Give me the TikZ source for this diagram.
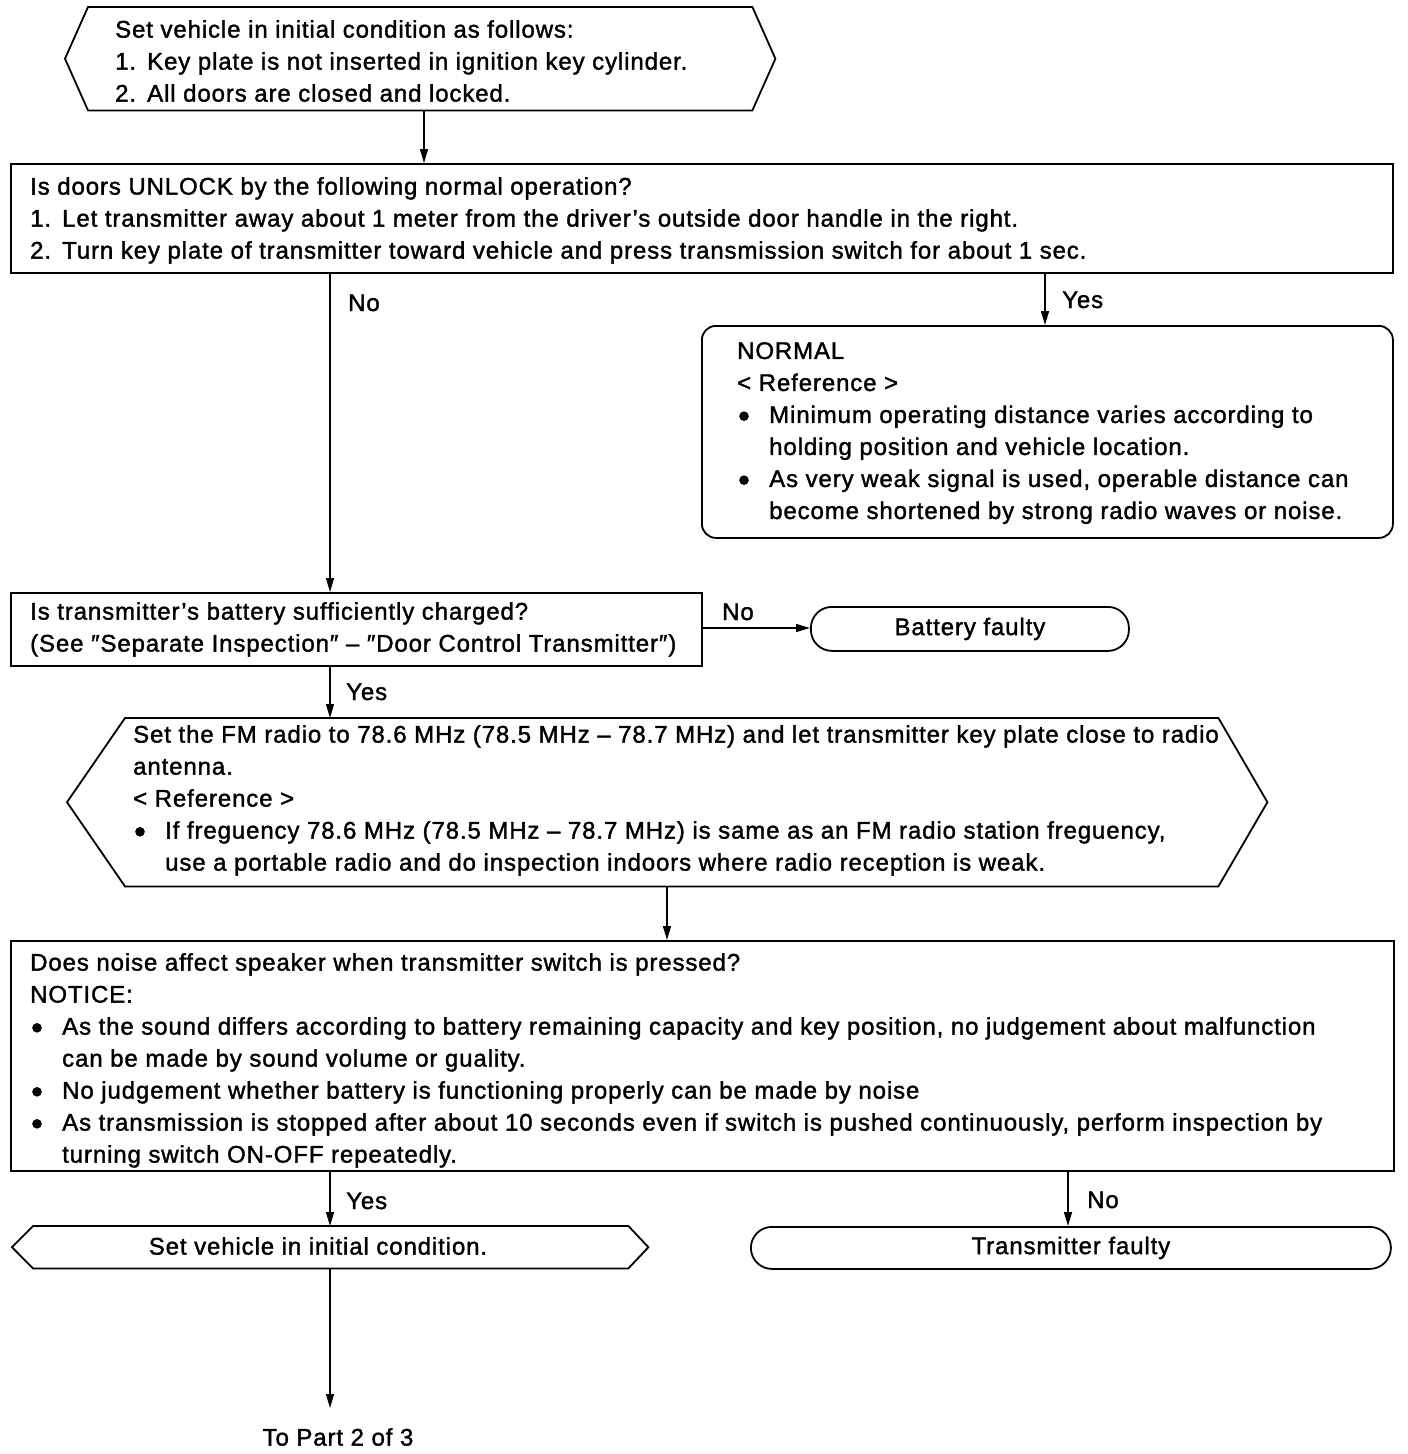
\documentclass[tikz,border=0pt]{standalone}
\usepackage{fontspec}
\setmainfont{Liberation Sans}[LetterSpace=3.7,FakeBold=1.5]
\usetikzlibrary{arrows.meta,calc}
\newcommand{\fs}{\fontsize{24}{32}\selectfont}
\newcommand{\bul}{\makebox[32pt][l]{\hspace{2pt}\raisebox{2pt}{\tikz\fill (0,0) circle (4.8pt);}}}
\newcommand{\ind}{\hspace*{32pt}}
\newcommand{\num}[1]{\makebox[32pt][l]{#1}}
\begin{document}
\begin{tikzpicture}[x=1pt,y=-1pt,
  frame/.style={shape=rectangle, inner sep=0pt, anchor=north west},
  boxline/.style={line width=1.8pt, line join=miter},
  txt/.style={anchor=north west, align=left, inner sep=0pt, font=\fs},
  lbl/.style={anchor=base west, inner sep=0pt, font=\fs},
  ctr/.style={inner sep=0pt, font=\fs},
  conn/.style={line width=1.5pt, -{Triangle[length=14pt,width=8pt]}},
]
\useasboundingbox[fill=white] (0,0) rectangle (1408,1454);

% top hexagon
\node[frame, minimum width=664pt, minimum height=103pt] (h1) at (88,7) {};
\draw[boxline] (h1.north west) -- (h1.north east) -- ($(h1.east)+(23,0)$) -- (h1.south east) -- (h1.south west) -- ($(h1.west)+(-23,0)$) -- cycle;
\node[txt] (h1t) at (115,20) {Set vehicle in initial condition as follows:\\ \num{1.}Key plate is not inserted in ignition key cylinder.\\ \num{2.}All doors are closed and locked.};

% box 2
\node[frame, draw, line width=1.8pt, minimum width=1382pt, minimum height=109pt] (b2) at (10,163) {};
\node[txt] (b2t) at (30,177) {Is doors UNLOCK by the following normal operation?\\ \num{1.}Let transmitter away about 1 meter from the driver’s outside door handle in the right.\\ \num{2.}Turn key plate of transmitter toward vehicle and press transmission switch for about 1 sec.};

% normal box
\node[frame, draw, line width=1.8pt, rounded corners=14pt, minimum width=691pt, minimum height=212pt] (nb) at (701,325) {};
\node[txt] (nbt) at (737,342) {NORMAL\\ < Reference >\\ \bul Minimum operating distance varies according to\\ \ind holding position and vehicle location.\\ \bul As very weak signal is used, operable distance can\\ \ind become shortened by strong radio waves or noise.};

% box 3
\node[frame, draw, line width=1.8pt, minimum width=691pt, minimum height=73pt] (b3) at (10,592) {};
\node[txt] (b3t) at (30,602) {Is transmitter’s battery sufficiently charged?\\ (See ″Separate Inspection″ – ″Door Control Transmitter″)};

% battery faulty
\node[frame, draw, line width=1.8pt, rounded corners=21pt, minimum width=318pt, minimum height=44pt] (bf) at (810,606) {};
\node[ctr] (bft) at (bf.center) {Battery faulty};

% hexagon 2
\node[frame, minimum width=1093pt, minimum height=168pt] (h2) at (125,718) {};
\draw[boxline] (h2.north west) -- (h2.north east) -- ($(h2.east)+(49,0)$) -- (h2.south east) -- (h2.south west) -- ($(h2.west)+(-58,0)$) -- cycle;
\node[txt] (h2t) at (133,725) {Set the FM radio to 78.6 MHz (78.5 MHz – 78.7 MHz) and let transmitter key plate close to radio\\ antenna.\\ < Reference >\\ \bul If freguency 78.6 MHz (78.5 MHz – 78.7 MHz) is same as an FM radio station freguency,\\ \ind use a portable radio and do inspection indoors where radio reception is weak.};

% box 4
\node[frame, draw, line width=1.8pt, minimum width=1383pt, minimum height=230pt] (b4) at (10,940) {};
\node[txt] (b4t) at (30,953) {Does noise affect speaker when transmitter switch is pressed?\\ NOTICE:\\ \bul As the sound differs according to battery remaining capacity and key position, no judgement about malfunction\\ \ind can be made by sound volume or guality.\\ \bul No judgement whether battery is functioning properly can be made by noise\\ \bul As transmission is stopped after about 10 seconds even if switch is pushed continuously, perform inspection by\\ \ind turning switch ON-OFF repeatedly.};

% hexagon 3
\node[frame, minimum width=595pt, minimum height=42pt] (h3) at (33,1226) {};
\draw[boxline] (h3.north west) -- (h3.north east) -- ($(h3.east)+(20,0)$) -- (h3.south east) -- (h3.south west) -- ($(h3.west)+(-21,0)$) -- cycle;
\node[ctr] (h3t) at (318,1246) {Set vehicle in initial condition.};

% transmitter faulty
\node[frame, draw, line width=1.8pt, rounded corners=21pt, minimum width=640pt, minimum height=42pt] (tf) at (750,1226) {};
\node[ctr] (tft) at (tf.center) {Transmitter faulty};

% end text
\node[ctr] (end) at (338,1437) {To Part 2 of 3};
\coordinate (endtip) at (330,1408);

% connectors
\draw[conn] (h1.south -| 424,0) -- (b2.north -| 424,0);
\draw[conn] (b2.south -| 330,0) -- (b3.north -| 330,0);
\node[lbl] (l1) at (348,311) {No};
\draw[conn] (b2.south -| 1045,0) -- (nb.north -| 1045,0);
\node[lbl] (l2) at (1062,308) {Yes};
\draw[conn] (b3.east |- 0,628) -- (bf.west |- 0,628);
\node[lbl] (l3) at (722,620) {No};
\draw[conn] (b3.south -| 330,0) -- (h2.north -| 330,0);
\node[lbl] (l4) at (346,700) {Yes};
\draw[conn] (h2.south -| 667,0) -- (b4.north -| 667,0);
\draw[conn] (b4.south -| 330,0) -- (h3.north -| 330,0);
\node[lbl] (l5) at (346,1209) {Yes};
\draw[conn] (b4.south -| 1068,0) -- (tf.north -| 1068,0);
\node[lbl] (l6) at (1087,1208) {No};
\draw[conn] (h3.south -| 330,0) -- (endtip);
\end{tikzpicture}
\end{document}
